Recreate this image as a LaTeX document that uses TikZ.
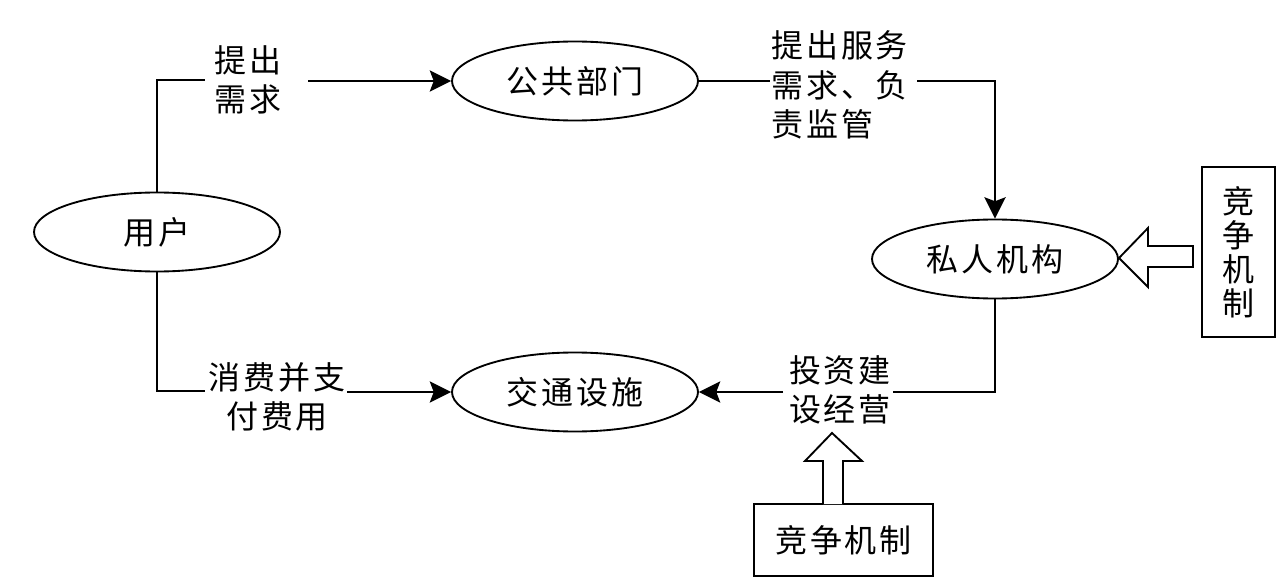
\documentclass[tikz,border=0pt]{standalone}
\usepackage{fontspec}
\setmainfont{Noto Sans CJK SC}[LetterSpace=9]
\usetikzlibrary{shapes.geometric,arrows.meta}
\tikzset{
  base/.style={line width=1.4pt},
  arr/.style={base,-{Stealth[length=16pt,width=16pt,inset=3pt]}},
  oval/.style={ellipse,draw,base,minimum width=184.5pt,minimum height=59.25pt,inner sep=0pt,font=\fontsize{24}{29}\selectfont},
  lbl/.style={inner sep=0pt,font=\fontsize{24}{29.5}\selectfont},
  boxn/.style={draw,base,inner sep=0pt,font=\fontsize{24}{25.5}\selectfont,align=center},
  hollow/.style={draw,base,fill=white,line join=miter}
}
\begin{document}
\begin{tikzpicture}[x=0.75pt,y=-0.75pt]
\useasboundingbox (0,0) rectangle (1281,581);
% ellipses
\node[oval] (yh) at (157,232) {用户};
\node[oval] (gg) at (575,81) {公共部门};
\node[oval] (sr) at (995,259) {私人机构};
\node[oval] (jt) at (575,392) {交通设施};
% labels
\node[lbl,align=center] (l1) at (248,80) {提出\\需求};
\node[lbl,align=left,anchor=west] (l2) at (771,85) {提出服务\\需求、负\\责监管};
\node[lbl,align=center] (l3) at (840,390) {投资建\\设经营};
\node[lbl,align=center] (l4) at (277,397) {消费并支\\付费用};
% boxes
\node[boxn,minimum width=54.75pt,minimum height=127.5pt] (rb) at (1238.5,252) {竞\\争\\机\\制};
\node[boxn,minimum width=134.25pt,minimum height=54pt] (bb) at (843.5,540) {竞争机制};
% gap coordinates
\coordinate (g1a) at (205,80);
\coordinate (g1b) at (308,81);
\coordinate (g2a) at (770,81);
\coordinate (g2b) at (917,81);
\coordinate (g3a) at (893,392);
\coordinate (g3b) at (783,392);
\coordinate (g4a) at (205,391);
\coordinate (g4b) at (347,392);
% connectors
\draw[base] (yh.north) |- (g1a);
\draw[arr] (g1b) -- (gg.west);
\draw[base] (gg.east) -- (g2a);
\draw[arr] (g2b) -| (sr.north);
\draw[base] (sr.south) |- (g3a);
\draw[arr] (g3b) -- (jt.east);
\draw[base] (yh.south) |- (g4a);
\draw[arr] (g4b) -- (jt.west);
% hollow arrows
\draw[hollow] (823,504) -- (823,461) -- (805,461) -- (832,433) -- (862,461) -- (843,461) -- (843,504);
\draw[hollow] (1193,246) -- (1148,246) -- (1148,228) -- (1119,258) -- (1148,287) -- (1148,267) -- (1193,267) -- cycle;
\end{tikzpicture}
\end{document}
